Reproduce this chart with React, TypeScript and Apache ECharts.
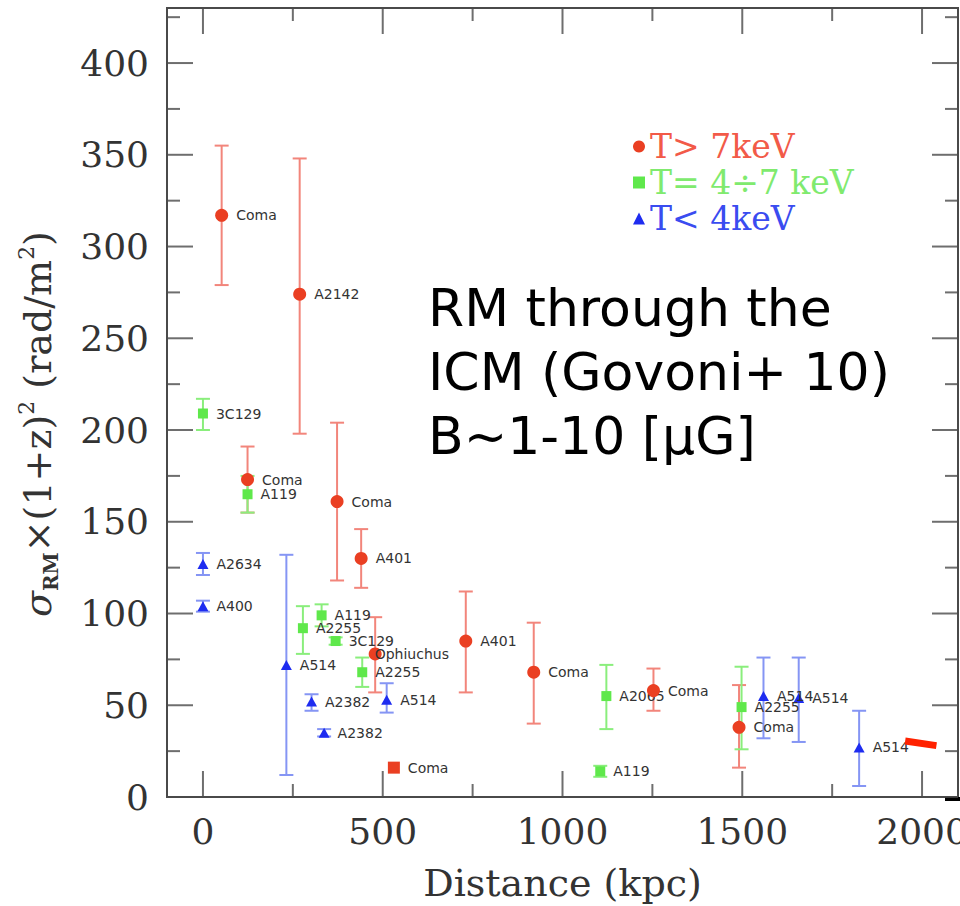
import React, { useEffect, useRef } from "react";
import * as echarts from "echarts";

// ---- Data ----
const redNames = ["Coma", "A2142", "Coma", "Coma", "A401", "Ophiuchus", "A401", "Coma", "Coma", "Coma"];
const redDist = [52, 269, 124, 373, 440, 479, 731, 920, 1253, 1491];
const redVal = [317, 274, 173, 161, 130, 78, 85, 68, 58, 38];
const redLow = [279, 198, 155, 118, 114, 57, 57, 40, 47, 16];
const redHigh = [355, 348, 191, 204, 146, 98, 112, 95, 70, 61];

const redSquareNames = ["Coma"];
const redSquareDist = [531];
const redSquareVal = [16];

const greenNames = ["3C129", "A119", "A2255", "A119", "3C129", "A2255", "A2065", "A119", "A2255"];
const greenDist = [0, 124, 278, 330, 369, 443, 1122, 1105, 1498];
const greenVal = [209, 165, 92, 99, 85, 68, 55, 14, 49];
const greenLow = [200, 155, 78, 93, 83, 60, 37, 11, 26];
const greenHigh = [217, 175, 104, 105, 87, 76, 72, 17, 71];

const blueNames = ["A2634", "A400", "A514", "A2382", "A2382", "A514", "A514", "A514", "A514"];
const blueDist = [0, 0, 232, 302, 337, 511, 1559, 1657, 1825];
const blueVal = [127, 104, 72, 52, 35, 53, 55, 54, 27];
const blueLow = [121, 101, 12, 47, 33, 46, 32, 30, 6];
const blueHigh = [133, 107, 132, 56, 37, 62, 76, 76, 47];

const redDashDist = [1953, 2040];
const redDashVal = [30.5, 28];

const xMajorTicks = [0, 500, 1000, 1500, 2000];
const xMinorTicks = [250, 750, 1250, 1750];
const yMajorTicks = [0, 50, 100, 150, 200, 250, 300, 350, 400];
const yMinorTicks = [25, 75, 125, 175, 225, 275, 325, 375, 425];

const legendNames = ["T> 7keV", "T= 4÷7 keV", "T< 4keV"];
const annotationLines = ["RM through the", "ICM (Govoni+ 10)", "B~1-10 [μG]"];

// ---- Styles ----
const RED = "#ea3f22";
const RED_BAR = "#f2857b";
const GREEN = "#5fe84b";
const GREEN_BAR = "#8aee7c";
const BLUE = "#1e2cf0";
const BLUE_BAR = "#8595f4";
const FRAME = "#4a4a4a";
const labelShift: Record<string, number[]> = { Ophiuchus: [-15, 0] };

const X_MIN = -100, X_MAX = 2100, Y_MIN = 0, Y_MAX = 430;
const MAJOR_LEN = 26, MINOR_LEN = 13;

function errRender(color: string) {
  return (params: any, api: any) => {
    const x = api.value(0);
    const lo = api.value(1);
    const hi = api.value(2);
    const pTop = api.coord([x, hi]);
    const pBot = api.coord([x, lo]);
    const cap = 7;
    const st = { stroke: color, lineWidth: 2 };
    return {
      type: "group",
      children: [
        { type: "line", shape: { x1: pTop[0], y1: pTop[1], x2: pBot[0], y2: pBot[1] }, style: st },
        { type: "line", shape: { x1: pTop[0] - cap, y1: pTop[1], x2: pTop[0] + cap, y2: pTop[1] }, style: st },
        { type: "line", shape: { x1: pBot[0] - cap, y1: pBot[1], x2: pBot[0] + cap, y2: pBot[1] }, style: st },
      ],
    };
  };
}

// Frame ticks drawn as thin rect symbols at axis positions (through the scales)
function tickSeries(name: string, data: number[][], size: number[], offset: number[]) {
  return {
    type: "scatter",
    name,
    symbol: "rect",
    symbolSize: size,
    symbolOffset: offset,
    itemStyle: { color: FRAME },
    data,
    clip: false,
  };
}

const pointLabel = {
  show: true,
  position: "right" as const,
  distance: 8,
  formatter: "{b}",
  fontFamily: "DejaVu Sans",
  fontSize: 14,
  color: "#333",
};

function points(names: string[], dist: number[], vals: number[]) {
  return names.map((n, i) => {
    const item: any = { name: n, value: [dist[i], vals[i]] };
    if (labelShift[n]) item.label = { offset: labelShift[n] };
    return item;
  });
}

function bars(dist: number[], lo: number[], hi: number[]) {
  return dist.map((d, i) => [d, lo[i], hi[i]]);
}

const tickFont = { fontFamily: "DejaVu Serif", fontSize: 36, color: "#333" };

export default function App() {
  const ref = useRef<HTMLDivElement>(null);
  useEffect(() => {
    const chart = echarts.init(ref.current!, null, { renderer: "svg" });
    const option: any = {
      animation: false,
      grid: {
        left: 167,
        top: 8,
        width: 791,
        height: 789,
        containLabel: false,
        outerBoundsMode: "none",
        show: true,
        borderColor: FRAME,
        borderWidth: 2,
        backgroundColor: "transparent",
      },
      xAxis: {
        type: "value",
        min: X_MIN,
        max: X_MAX,
        axisLine: { show: false, onZero: false },
        axisTick: { show: false },
        axisLabel: {
          show: true,
          customValues: xMajorTicks,
          margin: 16,
          formatter: (v: number) => String(v),
          ...tickFont,
        },
        splitLine: { show: false },
        name: "Distance (kpc)",
        nameLocation: "middle",
        nameGap: 66,
        nameTextStyle: { fontFamily: "DejaVu Serif", fontSize: 38, lineHeight: 40, color: "#333" },
      },
      yAxis: {
        type: "value",
        min: Y_MIN,
        max: Y_MAX,
        axisLine: { show: false, onZero: false },
        axisTick: { show: false },
        axisLabel: {
          show: true,
          customValues: yMajorTicks,
          margin: 18,
          formatter: (v: number) => String(v),
          ...tickFont,
        },
        splitLine: { show: false },
      },
      legend: {
        show: true,
        orient: "vertical",
        left: 628,
        top: 125,
        itemWidth: 12,
        itemHeight: 12,
        itemGap: 3,
        selectedMode: false,
        textStyle: { fontFamily: "DejaVu Serif", fontSize: 33, lineHeight: 33 },
        data: [
          { name: legendNames[0], icon: "circle", textStyle: { color: "#f25a48" } },
          { name: legendNames[1], icon: "rect", textStyle: { color: "#80ea6e" } },
          { name: legendNames[2], icon: "triangle", textStyle: { color: "#3a4cf0" } },
        ],
      },
      graphic: [
        {
          type: "text",
          x: 38,
          y: 424,
          rotation: Math.PI / 2,
          style: {
            text: "{s|σ}{sub|RM}{n|×(1+z)}{sup|2}{n| (rad/m}{sup|2}{n|)}",
            fill: "#333",
            align: "center",
            verticalAlign: "middle",
            rich: {
              s: { fontFamily: "DejaVu Serif", fontStyle: "italic", fontSize: 38, lineHeight: 46, fill: "#333" },
              n: { fontFamily: "DejaVu Serif", fontSize: 38, lineHeight: 46, fill: "#333" },
              sub: { fontFamily: "DejaVu Serif", fontWeight: "bold", fontSize: 20, lineHeight: 22, verticalAlign: "bottom", fill: "#333" },
              sup: { fontFamily: "DejaVu Serif", fontSize: 22, lineHeight: 30, verticalAlign: "top", fill: "#333" },
            },
          },
        },
        {
          type: "text",
          x: 428,
          y: 276,
          style: {
            text: annotationLines.join("\n"),
            fill: "#000",
            fontFamily: "DejaVu Sans",
            fontSize: 52,
            lineHeight: 64,
            align: "left",
            verticalAlign: "top",
          },
        },
        {
          type: "rect",
          shape: { x: 945, y: 797, width: 15, height: 4 },
          style: { fill: "#000" },
        },
      ],
      series: [
        tickSeries("tickBottomMajor", xMajorTicks.map((v) => [v, Y_MIN]), [2, MAJOR_LEN], [0, -MAJOR_LEN / 2]),
        tickSeries("tickTopMajor", xMajorTicks.map((v) => [v, Y_MAX]), [2, MAJOR_LEN], [0, MAJOR_LEN / 2]),
        tickSeries("tickBottomMinor", xMinorTicks.map((v) => [v, Y_MIN]), [2, MINOR_LEN], [0, -MINOR_LEN / 2]),
        tickSeries("tickTopMinor", xMinorTicks.map((v) => [v, Y_MAX]), [2, MINOR_LEN], [0, MINOR_LEN / 2]),
        tickSeries("tickLeftMajor", yMajorTicks.map((v) => [X_MIN, v]), [MAJOR_LEN, 2], [MAJOR_LEN / 2, 0]),
        tickSeries("tickRightMajor", yMajorTicks.map((v) => [X_MAX, v]), [MAJOR_LEN, 2], [-MAJOR_LEN / 2, 0]),
        tickSeries("tickLeftMinor", yMinorTicks.map((v) => [X_MIN, v]), [MINOR_LEN, 2], [MINOR_LEN / 2, 0]),
        tickSeries("tickRightMinor", yMinorTicks.map((v) => [X_MAX, v]), [MINOR_LEN, 2], [-MINOR_LEN / 2, 0]),
        {
          type: "custom",
          name: "redErr",
          renderItem: errRender(RED_BAR),
          data: bars(redDist, redLow, redHigh),
          encode: { x: 0, y: [1, 2] },
          z: 2,
          silent: true,
        },
        {
          type: "custom",
          name: "greenErr",
          renderItem: errRender(GREEN_BAR),
          data: bars(greenDist, greenLow, greenHigh),
          encode: { x: 0, y: [1, 2] },
          z: 2,
          silent: true,
        },
        {
          type: "custom",
          name: "blueErr",
          renderItem: errRender(BLUE_BAR),
          data: bars(blueDist, blueLow, blueHigh),
          encode: { x: 0, y: [1, 2] },
          z: 2,
          silent: true,
        },
        {
          type: "scatter",
          name: legendNames[1],
          symbol: "rect",
          symbolSize: 10,
          itemStyle: { color: GREEN, opacity: 1 },
          label: pointLabel,
          data: points(greenNames, greenDist, greenVal),
          z: 4,
        },
        {
          type: "scatter",
          name: legendNames[2],
          symbol: "triangle",
          symbolSize: [11, 10],
          itemStyle: { color: BLUE, opacity: 1 },
          label: pointLabel,
          data: points(blueNames, blueDist, blueVal),
          z: 4,
        },
        {
          type: "scatter",
          name: legendNames[0],
          symbol: "circle",
          symbolSize: 13,
          itemStyle: { color: RED, opacity: 1 },
          label: pointLabel,
          data: points(redNames, redDist, redVal),
          z: 5,
        },
        {
          type: "scatter",
          name: "redSquare",
          symbol: "rect",
          symbolSize: 12,
          itemStyle: { color: RED, opacity: 1 },
          label: pointLabel,
          data: points(redSquareNames, redSquareDist, redSquareVal),
          z: 5,
        },
        {
          type: "line",
          name: "redDash",
          data: redDashDist.map((d, i) => [d, redDashVal[i]]),
          symbol: "none",
          lineStyle: { color: "#ff2200", width: 7, cap: "butt" },
          z: 6,
          silent: true,
        },
      ],
    };
    chart.setOption(option);
    return () => chart.dispose();
  }, []);
  return (
    <div
      ref={ref}
      style={{ position: "fixed", left: 0, top: 0, width: 960, height: 906, background: "#fff" }}
    />
  );
}
